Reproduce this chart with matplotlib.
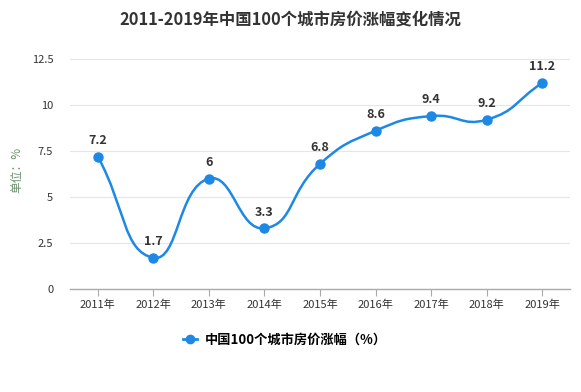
import numpy as np
import matplotlib
matplotlib.use('Agg')
import matplotlib.pyplot as plt
from matplotlib.path import Path
from matplotlib.patches import PathPatch
from matplotlib.lines import Line2D

plt.rcParams['font.family'] = ['Noto Sans CJK SC', 'DejaVu Sans']

years = ['2011年', '2012年', '2013年', '2014年', '2015年', '2016年', '2017年', '2018年', '2019年']
values = [7.2, 1.7, 6, 3.3, 6.8, 8.6, 9.4, 9.2, 11.2]
labels = ['7.2', '1.7', '6', '3.3', '6.8', '8.6', '9.4', '9.2', '11.2']
yticks = [0, 2.5, 5, 7.5, 10, 12.5]
ytick_labels = ['0', '2.5', '5', '7.5', '10', '12.5']

line_c = '#1e88e5'
txt_c = '#333333'

fig = plt.figure(figsize=(5.81, 3.92), dpi=100)
ax = fig.add_axes([70/581, (392-289)/392, 500/581, 230/392])

x = np.arange(len(values))
y = np.array(values, dtype=float)
n = len(x)

# smooth curve like echarts (smooth=0.5), computed in pixel-like units
sx, sy = 500/9, 230/12.5
P = np.column_stack([x * sx, y * sy])
smooth = 0.5
cps = []
for i in range(n):
    prev = P[max(i-1, 0)]
    nxt = P[min(i+1, n-1)]
    v = nxt - prev
    d0 = np.linalg.norm(P[i] - prev)
    d1 = np.linalg.norm(nxt - P[i])
    tot = d0 + d1
    if tot == 0:
        cps.append((P[i], P[i]))
        continue
    cps.append((P[i] - v * smooth * d0 / tot, P[i] + v * smooth * d1 / tot))
verts = [tuple(P[0])]
codes = [Path.MOVETO]
for i in range(n - 1):
    verts += [tuple(cps[i][1]), tuple(cps[i+1][0]), tuple(P[i+1])]
    codes += [Path.CURVE4] * 3
verts = [(a / sx, b / sy) for a, b in verts]
ax.add_patch(PathPatch(Path(verts, codes), facecolor='none', edgecolor=line_c, lw=1.8, zorder=3))
ax.plot(x, y, 'o', color=line_c, ms=6.5, zorder=4)

for xi, yi, t in zip(x, y, labels):
    ax.annotate(t, (xi, yi), xytext=(0, 7), textcoords='offset points', ha='center', va='bottom',
                fontsize=9, fontweight='bold', color=txt_c)

ax.set_xlim(-0.5, n - 0.5)
ax.set_ylim(0, 12.5)
ax.set_xticks(x)
ax.set_xticklabels(years, fontsize=8, color=txt_c)
ax.set_yticks(yticks)
ax.set_yticklabels(ytick_labels, fontsize=8, color=txt_c)
ax.tick_params(axis='y', length=0, pad=12)
ax.tick_params(axis='x', length=5, color='#aaaaaa', pad=3)
ax.grid(axis='y', color='#e6e6e6', lw=0.8)
ax.set_axisbelow(True)
for sp in ['top', 'right', 'left']:
    ax.spines[sp].set_visible(False)
ax.spines['bottom'].set_color('#aaaaaa')
ax.spines['bottom'].set_linewidth(1)

fig.text(290/581, 1 - 20/392, '2011-2019年中国100个城市房价涨幅变化情况', ha='center', va='center',
         fontsize=11.8, fontweight='bold', color=txt_c)
fig.text(17/581, 1 - 170/392, '单位：%', rotation=90, ha='center', va='center', fontsize=8.5, color='#6b8f6b')

h = Line2D([], [], color=line_c, marker='o', ms=6, lw=2)
fig.legend([h], ['中国100个城市房价涨幅（%）'], loc='center', bbox_to_anchor=(285/581, 1 - 340/392),
           frameon=False, handlelength=1.0, handletextpad=0.6,
           prop={'weight': 'bold', 'size': 9.5})

fig.savefig('out.png', dpi=100)
